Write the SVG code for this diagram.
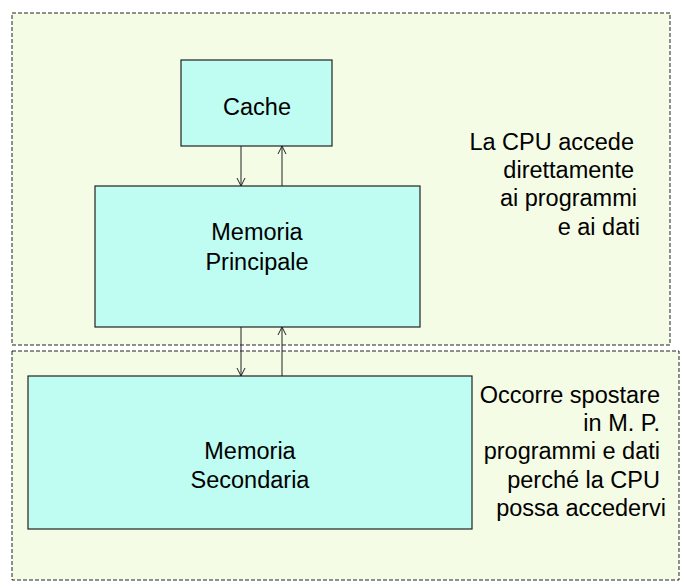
<svg xmlns="http://www.w3.org/2000/svg" width="681" height="586" viewBox="0 0 681 586">
<style>
.region{fill:#F4FCE6;stroke:#222;stroke-width:1;stroke-dasharray:4,2}
.box{fill:#BFFCF2;stroke:#222;stroke-width:1.2}
text{font-family:"Liberation Sans",Arial,sans-serif;font-size:23.5px;fill:#000}
.c{text-anchor:middle}
.r{text-anchor:end}
.conn line{stroke:#222;stroke-width:1}
</style>
<defs>
<marker id="ah" markerWidth="10" markerHeight="10" refX="9" refY="5" orient="auto" markerUnits="userSpaceOnUse" viewBox="0 0 10 10">
<path d="M1,1 L9,5 L1,9" fill="none" stroke="#222" stroke-width="1"/>
</marker>
</defs>
<rect width="681" height="586" fill="#fff"/>
<g id="region-top"><rect class="region" x="12" y="13" width="658" height="332"/></g>
<g id="region-bottom"><rect class="region" x="12" y="351" width="667" height="229"/></g>
<g id="cache"><rect class="box" x="181" y="60" width="151" height="86"/><text class="c" x="257" y="115">Cache</text></g>
<g id="memoria-principale"><rect class="box" x="95" y="186" width="325" height="141"/><text class="c" x="257" y="240">Memoria</text><text class="c" x="257" y="270">Principale</text></g>
<g id="memoria-secondaria"><rect class="box" x="28" y="376" width="444" height="153"/><text class="c" x="250" y="459">Memoria</text><text class="c" x="250" y="488">Secondaria</text></g>
<g id="note-top"><text class="r" x="634" y="150">La CPU accede</text><text class="r" x="634" y="178">direttamente</text><text class="r" x="637" y="206">ai programmi</text><text class="r" x="640" y="235">e ai dati</text></g>
<g id="note-bottom"><text class="r" x="660" y="403">Occorre spostare</text><text class="r" x="660" y="431">in M. P.</text><text class="r" x="660" y="459">programmi e dati</text><text class="r" x="660" y="488">perché la CPU</text><text class="r" x="666" y="516">possa accedervi</text></g>
<g class="conn" id="connectors">
<line x1="241" y1="146" x2="241" y2="186" marker-end="url(#ah)"/>
<line x1="282" y1="186" x2="282" y2="146" marker-end="url(#ah)"/>
<line x1="241" y1="327" x2="241" y2="376" marker-end="url(#ah)"/>
<line x1="282" y1="376" x2="282" y2="327" marker-end="url(#ah)"/>
</g>
</svg>
